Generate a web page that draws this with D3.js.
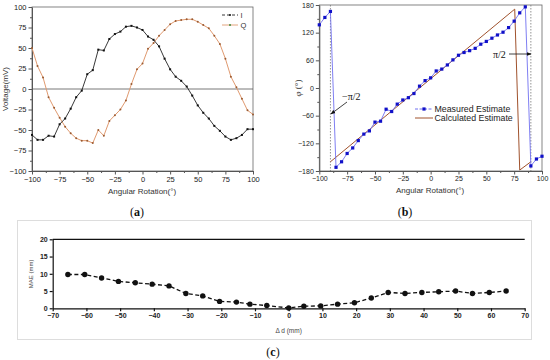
<!DOCTYPE html>
<html><head><meta charset="utf-8">
<script src="https://cdn.jsdelivr.net/npm/d3@7"></script>
<style>body{margin:0;background:#fff}svg{display:block}</style>
</head><body><svg id="c" width="550" height="360"></svg>
<script>
// ---------- Panel (a) data ----------
const angleA = [-100,-95,-90,-85,-80,-75,-70,-65,-60,-55,-50,-45,-40,-35,-30,-25,-20,-15,-10,-5,0,5,10,15,20,25,30,35,40,45,50,55,60,65,70,75,80,85,90,95,100];
const seriesI = [-56,-62,-62,-57,-58,-43,-36,-24,-10,-2,18,23,48,47,61,67,70,76,77,75,72,64,60,52,37,24,15,10,3,-8,-20,-29,-36,-45,-51,-58,-62,-60,-56,-49,-49];
const seriesQ = [50,28,14,-10,-23,-35,-46,-54,-60,-63,-63,-66,-50,-57,-39,-32,-25,-14,6,24,31,49,56,65,72,79,83,84,85,85,82,78,74,65,55,37,15,2,-12,-26,-31];
const ticksA_x = [-100,-75,-50,-25,0,25,50,75,100];
const ticksA_y = [-100,-75,-50,-25,0,25,50,75,100];

// ---------- Panel (b) data ----------
const angleB = [-100,-95,-90,-85,-80,-75,-70,-65,-60,-55,-50,-45,-40,-35,-30,-25,-20,-15,-10,-5,0,5,10,15,20,25,30,35,40,45,50,55,60,65,70,75,80,85,90,95,100];
const measured = [137,153,166,-172,-160,-142,-130,-114,-100,-93,-74,-72,-46,-51,-35,-26,-21,-12,4,16,22,37,41,50,61,71,77,81,86,95,101,108,115,121,131,145,163,176,-169,-154,-148];
const calcAngle = [-90,75.5,80,90];
const calcPhase = [-160,171,-178,-160];
const ticksB_x = [-100,-75,-50,-25,0,25,50,75,100];
const ticksB_y = [-180,-120,-60,0,60,120,180];
const markerLines = [-90,90];

// ---------- Panel (c) data ----------
const deltaD = [-65.5,-60.5,-55.5,-50.5,-45.5,-40.5,-35.5,-30.5,-25.5,-20.5,-15.5,-11.5,-6.5,0,4.5,9.5,14.5,19.5,24.5,29.5,34.5,39.5,44.5,49.5,54.5,59.5,64.5];
const mae = [9.8,9.8,8.8,7.8,7.4,7.0,6.5,4.3,3.6,2.0,1.8,1.2,0.8,0.1,0.6,0.7,1.2,1.6,3.0,4.6,4.3,4.6,4.8,5.0,4.3,4.6,5.0];
const ticksC_x = [-70,-60,-50,-40,-30,-20,-10,0,10,20,30,40,50,60,70];
const ticksC_y = [0,5,10,15,20];

const svg = d3.select("#c");
const sans = "Liberation Sans, Arial, sans-serif";
const serif = "Liberation Serif, Times New Roman, serif";

const defs = svg.append("defs");
defs.append("marker").attr("id","arr").attr("viewBox","0 0 10 10").attr("refX",9).attr("refY",5)
  .attr("markerWidth",6).attr("markerHeight",6).attr("orient","auto")
  .append("path").attr("d","M0,1 L10,5 L0,9 z").attr("fill","#111");

function styleAxis(g, col, fs){
  g.selectAll("path,line").attr("stroke", col);
  g.selectAll("text").attr("font-family", sans).attr("font-size", fs).attr("fill","#222");
}

// ================= Panel (a) =================
{
  const x = d3.scaleLinear().domain([-100,100]).range([32,253]);
  const y = d3.scaleLinear().domain([-100,100]).range([171,7]);
  const g = svg.append("g");
  g.append("rect").attr("x",32).attr("y",7).attr("width",221).attr("height",164)
    .attr("fill","none").attr("stroke","#666").attr("stroke-width",0.8);
  g.append("line").attr("x1",x(-100)).attr("x2",x(100)).attr("y1",y(0)).attr("y2",y(0))
    .attr("stroke","#555").attr("stroke-width",0.8);
  const minor = d3.range(-87.5,100,25);
  g.append("g").attr("transform","translate(0,171)").call(d3.axisBottom(x).tickValues(minor).tickSize(2).tickFormat(""))
    .call(a=>{a.select(".domain").remove();a.selectAll("line").attr("stroke","#555");});
  g.append("g").attr("transform","translate(32,0)").call(d3.axisLeft(y).tickValues(minor).tickSize(2).tickFormat(""))
    .call(a=>{a.select(".domain").remove();a.selectAll("line").attr("stroke","#555");});
  const ax = g.append("g").attr("transform","translate(0,171)")
    .call(d3.axisBottom(x).tickValues(ticksA_x).tickSize(3.5).tickPadding(2).tickSizeOuter(0));
  styleAxis(ax,"#555",7.5);
  const ay = g.append("g").attr("transform","translate(32,0)")
    .call(d3.axisLeft(y).tickValues(ticksA_y).tickSize(3.5).tickPadding(2).tickSizeOuter(0));
  styleAxis(ay,"#555",7.5);
  g.append("text").attr("x",142).attr("y",194).attr("text-anchor","middle")
    .attr("font-family",sans).attr("font-size",8).attr("fill","#333").text("Angular Rotation(°)");
  g.append("text").attr("transform","translate(8,89) rotate(-90)").attr("text-anchor","middle")
    .attr("font-family",sans).attr("font-size",8).attr("fill","#333").text("Voltage(mV)");
  const line = d3.line().x((d,i)=>x(angleA[i])).y(d=>y(d));
  g.append("path").datum(seriesQ).attr("d",line).attr("fill","none").attr("stroke","#e09a70").attr("stroke-width",1);
  g.selectAll(".qd").data(seriesQ).join("circle").attr("cx",(d,i)=>x(angleA[i])).attr("cy",d=>y(d)).attr("r",1)
    .attr("fill","#9a5a30");
  g.append("path").datum(seriesI).attr("d",line).attr("fill","none").attr("stroke","#222").attr("stroke-width",0.9);
  g.selectAll(".id").data(seriesI).join("rect").attr("x",(d,i)=>x(angleA[i])-1).attr("y",d=>y(d)-1)
    .attr("width",2).attr("height",2).attr("fill","#111");
  const lg = g.append("g");
  [["I","#222","#111",15],["Q","#e09a70","#3a8a3a",25]].forEach(([t,c,mc,yy])=>{
    lg.append("line").attr("x1",222).attr("x2",238).attr("y1",yy).attr("y2",yy).attr("stroke",c)
      .attr("stroke-dasharray", t==="I"?"3,2":null).attr("stroke-width",0.9);
    lg.append("circle").attr("cx",230).attr("cy",yy).attr("r",1).attr("fill",mc);
    lg.append("text").attr("x",240.5).attr("y",yy+2.5).attr("font-family",sans).attr("font-size",7.5).attr("fill","#333").text(t);
  });
}

// ================= Panel (b) =================
{
  const x = d3.scaleLinear().domain([-100,100]).range([319.3,542]);
  const y = d3.scaleLinear().domain([-180,180]).range([171,5]);
  const g = svg.append("g");
  g.append("rect").attr("x",319.3).attr("y",5).attr("width",222.7).attr("height",166)
    .attr("fill","none").attr("stroke","#666").attr("stroke-width",0.8);
  const minorX = d3.range(-87.5,100,25);
  const minorY = d3.range(-150,180,60);
  g.append("g").attr("transform","translate(0,171)").call(d3.axisBottom(x).tickValues(minorX).tickSize(2).tickFormat(""))
    .call(a=>{a.select(".domain").remove();a.selectAll("line").attr("stroke","#555");});
  g.append("g").attr("transform","translate(319.3,0)").call(d3.axisLeft(y).tickValues(minorY).tickSize(2).tickFormat(""))
    .call(a=>{a.select(".domain").remove();a.selectAll("line").attr("stroke","#555");});
  const ax = g.append("g").attr("transform","translate(0,171)")
    .call(d3.axisBottom(x).tickValues(ticksB_x).tickSize(3.5).tickPadding(2).tickSizeOuter(0));
  styleAxis(ax,"#555",7);
  const ay = g.append("g").attr("transform","translate(319.3,0)")
    .call(d3.axisLeft(y).tickValues(ticksB_y).tickSize(3.5).tickPadding(2).tickSizeOuter(0));
  styleAxis(ay,"#555",7);
  g.append("text").attr("x",430).attr("y",193).attr("text-anchor","middle")
    .attr("font-family",sans).attr("font-size",8).attr("fill","#333").text("Angular Rotation(°)");
  g.append("text").attr("transform","translate(301,88) rotate(-90)").attr("text-anchor","middle")
    .attr("font-family",serif).attr("font-size",9).attr("fill","#333")
    .html('<tspan font-style="italic">φ</tspan> (°)');
  g.selectAll(".vl").data(markerLines).join("line").attr("x1",d=>x(d)).attr("x2",d=>x(d)).attr("y1",5).attr("y2",171)
    .attr("stroke","#777").attr("stroke-width",0.8).attr("stroke-dasharray","1.5,1.5");
  const cl = d3.line().x((d,i)=>x(calcAngle[i])).y(d=>y(d));
  g.append("path").datum(calcPhase).attr("d",cl).attr("fill","none").attr("stroke","#a0522d").attr("stroke-width",1);
  const ml = d3.line().x((d,i)=>x(angleB[i])).y(d=>y(d));
  g.append("path").datum(measured).attr("d",ml).attr("fill","none").attr("stroke","#7070f0").attr("stroke-width",0.9);
  g.selectAll(".md").data(measured).join("rect").attr("x",(d,i)=>x(angleB[i])-1.6).attr("y",d=>y(d)-1.6)
    .attr("width",3.2).attr("height",3.2).attr("fill","#1010c8");
  g.append("text").attr("x",342).attr("y",100).attr("font-family",serif).attr("font-size",10).attr("fill","#111").text("−π/2");
  g.append("line").attr("x1",347).attr("y1",102).attr("x2",x(-90)+0.5).attr("y2",114)
    .attr("stroke","#111").attr("stroke-width",0.8).attr("marker-end","url(#arr)");
  g.append("text").attr("x",493).attr("y",57.5).attr("font-family",serif).attr("font-size",10).attr("fill","#111").text("π/2");
  g.append("line").attr("x1",509).attr("y1",54).attr("x2",x(90)).attr("y2",54)
    .attr("stroke","#111").attr("stroke-width",0.8).attr("marker-end","url(#arr)");
  g.append("line").attr("x1",415).attr("x2",433).attr("y1",109).attr("y2",109).attr("stroke","#7070f0").attr("stroke-dasharray","3,1.5");
  g.append("rect").attr("x",422.4).attr("y",107.4).attr("width",3.2).attr("height",3.2).attr("fill","#1010c8");
  g.append("text").attr("x",434.5).attr("y",112).attr("font-family",sans).attr("font-size",8.8).attr("fill","#222").text("Measured Estimate");
  g.append("line").attr("x1",415).attr("x2",433).attr("y1",118).attr("y2",118).attr("stroke","#a0522d");
  g.append("text").attr("x",434.5).attr("y",121).attr("font-family",sans).attr("font-size",8.8).attr("fill","#222").text("Calculated Estimate");
}

svg.append("text").attr("x",137).attr("y",216).attr("text-anchor","middle").attr("font-family",serif).attr("font-size",12).attr("fill","#111")
  .html('(<tspan font-weight="bold">a</tspan>)');
svg.append("text").attr("x",405).attr("y",216).attr("text-anchor","middle").attr("font-family",serif).attr("font-size",12).attr("fill","#111")
  .html('(<tspan font-weight="bold">b</tspan>)');

// ================= Panel (c) =================
{
  svg.append("rect").attr("x",17.5).attr("y",220.5).attr("width",514).attr("height",119).attr("fill","none").attr("stroke","#ddd").attr("stroke-width",1);
  const x = d3.scaleLinear().domain([-70,70]).range([52.7,524.7]);
  const y = d3.scaleLinear().domain([0,20]).range([308.3,239.3]);
  const g = svg.append("g");
  g.append("line").attr("x1",x(-70)).attr("x2",x(70)).attr("y1",y(20)).attr("y2",y(20)).attr("stroke","#111").attr("stroke-width",1.2);
  const ax = g.append("g").attr("transform",`translate(0,${y(0)})`)
    .call(d3.axisBottom(x).tickValues(ticksC_x).tickSize(3).tickPadding(2).tickSizeOuter(0));
  ax.selectAll("path,line").attr("stroke","#111").attr("stroke-width",1.2);
  ax.selectAll("text").attr("font-family",sans).attr("font-size",7).attr("font-weight","bold").attr("fill","#222");
  const ay = g.append("g").attr("transform",`translate(${x(-70)},0)`)
    .call(d3.axisLeft(y).tickValues(ticksC_y).tickSize(3).tickPadding(2).tickSizeOuter(0));
  ay.selectAll("path,line").attr("stroke","#111").attr("stroke-width",1.2);
  ay.selectAll("text").attr("font-family",sans).attr("font-size",7).attr("font-weight","bold").attr("fill","#222");
  g.append("text").attr("x",x(0)).attr("y",333).attr("text-anchor","middle").attr("font-family",sans).attr("font-size",6.5).attr("fill","#444").text("Δ d (mm)");
  g.append("text").attr("transform",`translate(33,${y(10)}) rotate(-90)`).attr("text-anchor","middle").attr("font-family",sans).attr("font-size",6).attr("fill","#444").text("MAE (mm)");
  const l = d3.line().x((d,i)=>x(deltaD[i])).y(d=>y(d));
  g.append("path").datum(mae).attr("d",l).attr("fill","none").attr("stroke","#111").attr("stroke-width",1.3).attr("stroke-dasharray","4,2.5");
  g.selectAll(".cd").data(mae).join("circle").attr("cx",(d,i)=>x(deltaD[i])).attr("cy",d=>y(d)).attr("r",2.7).attr("fill","#111");
}
svg.append("text").attr("x",273).attr("y",356).attr("text-anchor","middle").attr("font-family",serif).attr("font-size",12).attr("fill","#111")
  .html('(<tspan font-weight="bold">c</tspan>)');
</script></body></html>
